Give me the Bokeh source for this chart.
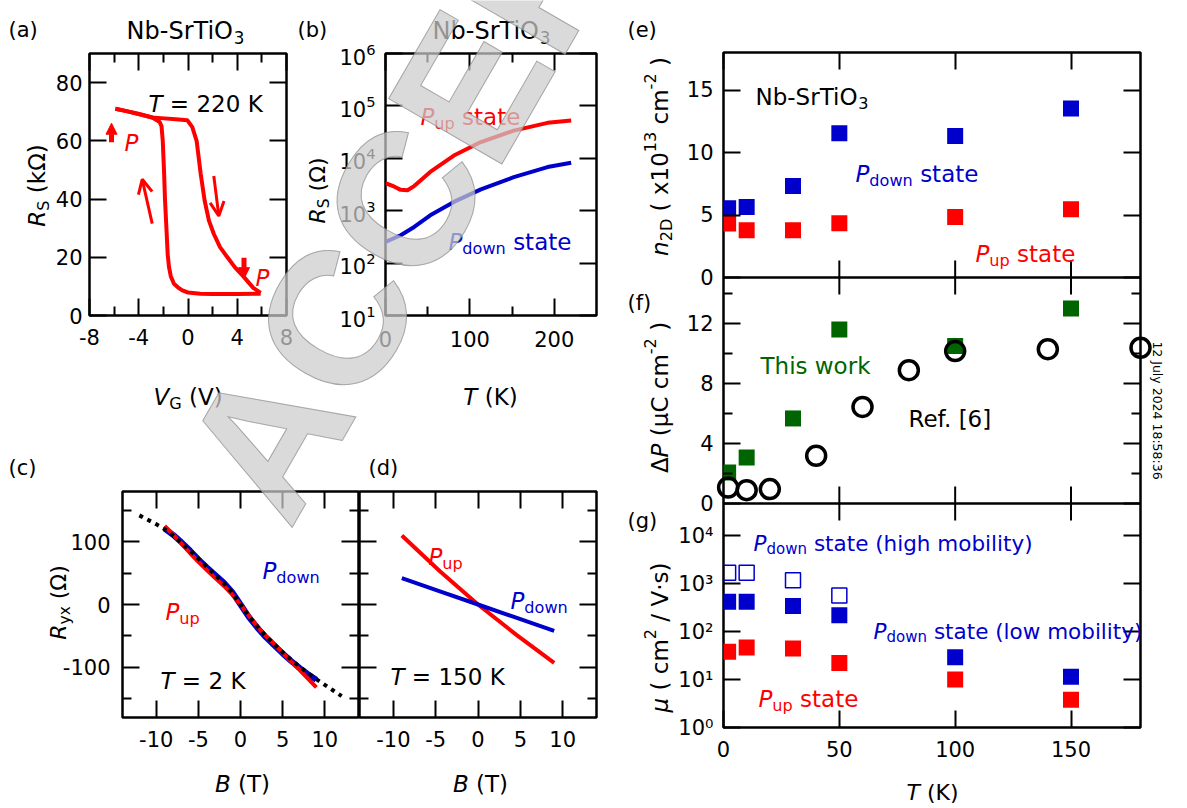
import math
from bokeh.plotting import figure
from bokeh.layouts import row, column
from bokeh.models import (Range1d, LinearAxis, LogAxis, FixedTicker, Label, Arrow,
                          OpenHead, NormalHead, Span, CustomJSTickFormatter, LogScale)
from bokeh.embed import file_html
from bokeh.resources import INLINE

FONT = "DejaVu Sans"
RED = "#ff0000"
BLUE = "#0000cc"
GREEN = "#006400"
BLACK = "#000000"

# ---------------- data ----------------
# (a) hysteresis at T = 220 K
a_dn_V = [-5.9, -5.0, -4.0, -2.9, -2.2, -1.0, -0.06, 0.35, 0.7, 1.03, 1.35, 1.7, 2.1, 2.6, 3.2, 3.8, 4.55, 5.3, 5.9]
a_dn_R = [71.0, 70.2, 69.2, 68.0, 67.8, 67.4, 67.1, 64.7, 60.0, 48.7, 39.5, 32.6, 28.0, 23.5, 20.0, 16.6, 13.2, 9.5, 7.8]
a_up_V = [5.9, 4.0, 2.0, 1.0, 0.0, -0.46, -0.8, -1.14, -1.4, -1.54, -1.65, -1.73, -1.8, -1.87, -1.95, -2.05, -2.15, -2.3, -2.9, -4.0, -5.0, -5.9]
a_up_R = [7.5, 7.4, 7.4, 7.5, 7.9, 8.6, 9.6, 10.9, 13.5, 16.6, 21.0, 28.0, 34.0, 40.0, 50.0, 60.0, 65.0, 66.5, 68.0, 69.2, 70.2, 71.0]

# (b) R_S vs T
b_T_up = [0, 10, 18, 26, 34, 53, 81, 113, 152, 192, 220]
b_R_up = [3350, 2900, 2500, 2450, 2950, 5500, 11300, 20400, 33800, 47500, 52500]
b_T_dn = [0, 18, 34, 53, 81, 113, 152, 192, 220]
b_R_dn = [253, 340, 490, 815, 1470, 2550, 4370, 6800, 8200]

# (c) R_yx vs B at 2 K
c_B = [-9, -8, -7, -6, -5, -4, -3, -2, -1, 0, 1, 2, 3, 4, 5, 6, 7, 8, 9]
c_up = [125, 112, 97, 82, 68, 55, 42, 30, 16, 0, -18, -35, -50, -63, -77, -91, -104, -118, -132]
c_dn = [121, 111, 99, 86, 72, 59, 47, 35, 20, 0, -20, -37, -52, -65, -78, -90, -101, -111, -120]
c_fit_B = [-12, -11, -10, -9, -8, -7, -6, -5, -4, -3, -2, -1, 0, 1, 2, 3, 4, 5, 6, 7, 8, 9, 10, 11, 12]
c_fit = [142, 135, 128, 120, 110, 98, 86, 73, 60, 47, 34, 19, 0, -19, -35, -50, -63, -76, -88, -99, -109, -119, -128, -137, -146]

# (d) R_yx vs B at 150 K
d_B = [-9, -4.5, 0, 4.5, 9]
d_up = [110, 53, 0, -48, -93]
d_dn = [42, 21, 0, -21, -42]

# (e) n_2D vs T
e_T = [2, 10, 30, 50, 100, 150]
e_dn = [5.55, 5.65, 7.33, 11.55, 11.33, 13.52]
e_up = [4.32, 3.79, 3.79, 4.35, 4.85, 5.47]

# (f) Delta P vs T
f_T = [2, 10, 30, 50, 100, 150]
f_this = [2.07, 3.07, 5.67, 11.6, 10.5, 13.0]
f_ref_T = [2, 10, 20, 40, 60, 80, 100, 140, 180]
f_ref = [1.07, 0.89, 0.96, 3.18, 6.44, 8.89, 10.16, 10.29, 10.38]

# (g) mobility vs T
g_T = [2, 10, 30, 50, 100, 150]
g_dn_low = [415, 415, 340, 218, 29, 11.4]
g_up = [38, 46.5, 44, 22, 10, 3.8]
g_T_high = [2, 10, 30, 50]
g_dn_high = [1670, 1670, 1170, 560]

# tick values
a_xt, a_xm, a_yt = [-8, -4, 0, 4, 8], [-6, -2, 2, 6], [0, 20, 40, 60, 80]
b_xt, b_xm, b_yt = [0, 100, 200], [50, 150], [1e1, 1e2, 1e3, 1e4, 1e5, 1e6]
c_xt, c_yt, c_ym = [-10, -5, 0, 5, 10], [-100, 0, 100], [-150, -50, 50, 150]
r_xt = [0, 50, 100, 150]
e_yt, f_yt, f_ym = [0, 5, 10, 15], [0, 4, 8, 12], [2, 6, 10, 14]
g_yt = [1, 10, 100, 1000, 10000]
g_ylab = ["10\u2070", "10\u00b9", "10\u00b2", "10\u00b3", "10\u2074"]

# ---------------- geometry helpers (page pixels, origin top-left) ----------------
PAGE_W, PAGE_H = 1186, 807


class Spec:
    def __init__(self, canvas, frame, xr, yr, ylog=False):
        self.cx0, self.cy0, self.cx1, self.cy1 = canvas
        self.L, self.R, self.T, self.B = frame
        self.xr, self.yr, self.ylog = xr, yr, ylog

    def to_data(self, sx, sy):
        x = self.xr[0] + (sx - self.L) / (self.R - self.L) * (self.xr[1] - self.xr[0])
        f = (self.B - sy) / (self.B - self.T)
        if self.ylog:
            l0, l1 = math.log10(self.yr[0]), math.log10(self.yr[1])
            y = 10 ** (l0 + f * (l1 - l0))
        else:
            y = self.yr[0] + f * (self.yr[1] - self.yr[0])
        return x, y


SA = Spec((0, 0, 296, 420), (89, 286, 52, 315), (-8, 8), (0, 90))
SB = Spec((296, 0, 620, 420), (385, 596, 53, 317), (0, 250), (10, 1e6), ylog=True)
SC = Spec((0, 420, 359, PAGE_H), (122, 358, 491, 717), (-14, 14), (-180, 180))
SD = Spec((359, 420, 620, PAGE_H), (359, 596, 491, 717), (-14, 14), (-180, 180))
SR = Spec((620, 0, PAGE_W, PAGE_H), (723, 1140, 52, 727), (0, 180), (0, 675))
SO = Spec((0, 0, PAGE_W, PAGE_H), (0, PAGE_W, 0, PAGE_H), (0, PAGE_W), (PAGE_H, 0))

WID = {' ': .318, '(': .390, ')': .390, '-': .361, '.': .318, '/': .337, ':': .337, '=': .838,
       '[': .390, ']': .390, 'A': .684, 'B': .686, 'C': .698, 'D': .770, 'E': .632, 'G': .775,
       'K': .656, 'N': .748, 'O': .787, 'P': .603, 'R': .695, 'S': .635, 'T': .611, 'V': .684,
       'J': .295, 'a': .613, 'b': .635, 'c': .550, 'd': .635, 'e': .615, 'f': .352, 'g': .635,
       'h': .634, 'i': .278, 'k': .579, 'l': .278, 'm': .974, 'n': .634, 'o': .612, 'p': .635,
       'r': .411, 's': .521, 't': .392, 'u': .634, 'w': .818, 'x': .592, 'y': .592,
       '\u0394': .684, '\u03bc': .635, '\u03a9': .764, '\u00b7': .318}
for dch in "0123456789":
    WID[dch] = .636


def tw(s, size):
    return sum(WID.get(ch, 0.62) for ch in s) * size


def rich(p, spec, sx, sy, segs, size, color=BLACK, align="left", angle=0.0):
    sizes = [size * 0.7 if ('b' in st or 'p' in st) else size for _, st in segs]
    widths = [tw(t, fs) for (t, _), fs in zip(segs, sizes)]
    total = sum(widths)
    pos = {"left": 0.0, "center": -total / 2, "right": -total}[align]
    ca, sa = math.cos(angle), math.sin(angle)
    for (t, st), fs, w in zip(segs, sizes, widths):
        lead = len(t) - len(t.lstrip(' '))
        core = t.strip(' ')
        start = pos + lead * WID[' '] * fs
        down = 0.36 * size
        if 'b' in st:
            down += 0.28 * size
        if 'p' in st:
            down -= 0.42 * size
        px = sx + start * ca + down * sa
        py = sy - start * sa + down * ca
        x, y = spec.to_data(px, py)
        if core:
            p.add_layout(Label(x=x, y=y, text=core, text_font=FONT, text_font_size=f"{fs:.1f}px",
                               text_font_style="italic" if 'i' in st else "normal",
                               text_color=color, text_align="left", text_baseline="alphabetic",
                               angle=angle))
        pos += w


def make_fig(spec, x_range, y_range, ylog=False, left=True, **kw):
    p = figure(width=spec.cx1 - spec.cx0, height=spec.cy1 - spec.cy0,
               x_range=x_range, y_range=y_range,
               y_axis_type="log" if ylog else "linear",
               y_axis_location="left" if left else None,
               output_backend="svg", toolbar_location=None,
               min_border_left=spec.L - spec.cx0, min_border_right=spec.cx1 - spec.R,
               min_border_top=spec.T - spec.cy0, min_border_bottom=spec.cy1 - spec.B, **kw)
    p.grid.visible = False
    p.outline_line_color = BLACK
    p.outline_line_width = 2.5
    p.background_fill_color = "white"
    p.border_fill_color = "white"
    return p


PLAIN = CustomJSTickFormatter(code="return String(tick);")


def style_axis(ax, ticks=None, minor=(), labels=True, standoff=8, ticker=None, fmt=None):
    ax.ticker = ticker if ticker is not None else FixedTicker(ticks=list(ticks), minor_ticks=list(minor))
    ax.major_tick_in = 17
    ax.major_tick_out = 0
    ax.minor_tick_in = 9
    ax.minor_tick_out = 0
    ax.major_tick_line_width = 2
    ax.minor_tick_line_width = 2
    ax.major_tick_line_color = BLACK
    ax.minor_tick_line_color = BLACK
    ax.axis_line_color = None
    ax.major_label_text_font = FONT
    if labels:
        ax.major_label_text_color = BLACK
        ax.major_label_text_font_size = "21px"
        ax.major_label_standoff = standoff
    else:
        ax.major_label_text_color = None
        ax.major_label_text_font_size = "1px"
        ax.major_label_standoff = 0
    if fmt is not None:
        ax.formatter = fmt


def mirrors(p, xt, xm, yt, ym, ylog=False):
    top = LinearAxis()
    style_axis(top, xt, xm, labels=False)
    p.add_layout(top, "above")
    right = LogAxis() if ylog else LinearAxis()
    style_axis(right, yt, ym, labels=False)
    p.add_layout(right, "right")


def arrow(p, spec, s0, s1, head, width):
    x0, y0 = spec.to_data(*s0)
    x1, y1 = spec.to_data(*s1)
    p.add_layout(Arrow(end=head, x_start=x0, y_start=y0, x_end=x1, y_end=y1,
                       line_color=RED, line_width=width))


# ---------------- panel (a) ----------------
fa = make_fig(SA, Range1d(-8, 8), Range1d(0, 90))
style_axis(fa.xaxis[0], a_xt, a_xm, standoff=13, fmt=PLAIN)
style_axis(fa.yaxis[0], a_yt, [], standoff=7, fmt=PLAIN)
mirrors(fa, a_xt, a_xm, a_yt, [])
fa.line(a_dn_V, a_dn_R, line_color=RED, line_width=4, line_join="round")
fa.line(a_up_V, a_up_R, line_color=RED, line_width=4, line_join="round")
arrow(fa, SA, (151.7, 222.7), (141.7, 178.3), OpenHead(size=14, line_color=RED, line_width=3), 3)
arrow(fa, SA, (213.3, 175.0), (218.3, 215.0), OpenHead(size=14, line_color=RED, line_width=3), 3)
arrow(fa, SA, (111, 141), (111, 122), NormalHead(size=11, fill_color=RED, line_color=RED), 5)
arrow(fa, SA, (243.5, 257), (243.5, 278), NormalHead(size=11, fill_color=RED, line_color=RED), 5)

# ---------------- panel (b) ----------------
fb = make_fig(SB, Range1d(0, 250), Range1d(10, 1e6), ylog=True)
style_axis(fb.xaxis[0], b_xt, b_xm, standoff=15, fmt=PLAIN)
style_axis(fb.yaxis[0], b_yt, [], standoff=10)
mirrors(fb, b_xt, b_xm, b_yt, [], ylog=True)
fb.line(b_T_up, b_R_up, line_color=RED, line_width=4, line_join="round")
fb.line(b_T_dn, b_R_dn, line_color=BLUE, line_width=4, line_join="round")

# ---------------- panels (c), (d) ----------------
cy = Range1d(-180, 180)
fc = make_fig(SC, Range1d(-14, 14), cy)
style_axis(fc.xaxis[0], c_xt, [], standoff=13, fmt=PLAIN)
style_axis(fc.yaxis[0], c_yt, c_ym, standoff=12, fmt=PLAIN)
mirrors(fc, c_xt, [], c_yt, c_ym)
fc.line(c_B, c_dn, line_color=BLUE, line_width=6, line_join="round")
fc.line(c_B, c_up, line_color=RED, line_width=4, line_join="round")
fc.line(c_fit_B, c_fit, line_color=BLACK, line_width=4, line_dash="4 5")

fd = make_fig(SD, Range1d(-14, 14), cy, left=False)
style_axis(fd.xaxis[0], c_xt, [], standoff=13, fmt=PLAIN)
lax = LinearAxis()
style_axis(lax, c_yt, c_ym, labels=False)
fd.add_layout(lax, "left")
mirrors(fd, c_xt, [], c_yt, c_ym)
fd.line(d_B, d_up, line_color=RED, line_width=4, line_join="round")
fd.line(d_B, d_dn, line_color=BLUE, line_width=4, line_join="round")

# ---------------- right column (e), (f), (g) ----------------
VH = SR.B - SR.T  # virtual pixel height of the stacked frame


def sub_range(r0, r1, top, bot, log=False):
    if log:
        r0, r1 = math.log10(r0), math.log10(r1)
    k = (r1 - r0) / (bot - top)
    return r0 - (SR.B - bot) * k, r1 + (top - SR.T) * k


E_TOP, E_BOT = 52, 277
F_TOP, F_BOT = 277, 503
G_TOP, G_BOT = 503, 727
e_lo, e_hi = sub_range(0, 18, E_TOP, E_BOT)
f_lo, f_hi = sub_range(0, 15.0667, F_TOP, F_BOT)
g_llo, g_lhi = sub_range(1, 10 ** 4.667, G_TOP, G_BOT, log=True)


def v_lin(val, lo, hi):
    return (val - lo) / (hi - lo) * VH


def v_log(val, llo, lhi):
    return (math.log10(val) - llo) / (lhi - llo) * VH


maj = ([v_lin(t, e_lo, e_hi) for t in e_yt] + [v_lin(t, f_lo, f_hi) for t in f_yt]
       + [v_log(t, g_llo, g_lhi) for t in g_yt])
lab = [str(t) for t in e_yt] + [str(t) for t in f_yt] + g_ylab
mnr = [v_lin(t, f_lo, f_hi) for t in f_ym]

fr = make_fig(SR, Range1d(0, 180), Range1d(0, VH),
              extra_y_ranges={"e": Range1d(e_lo, e_hi), "f": Range1d(f_lo, f_hi),
                              "g": Range1d(10 ** g_llo, 10 ** g_lhi)},
              extra_y_scales={"g": LogScale()})
style_axis(fr.xaxis[0], r_xt, [], standoff=13, fmt=PLAIN)
fmt = CustomJSTickFormatter(args=dict(pos=maj, lab=lab), code="""
for (let i = 0; i < pos.length; i++) { if (Math.abs(pos[i] - tick) < 1e-3) { return lab[i]; } }
return "";
""")
style_axis(fr.yaxis[0], maj, mnr, standoff=10, fmt=fmt)
mirrors(fr, r_xt, [], maj, mnr)

ef_line = v_lin(0, e_lo, e_hi)
fg_line = v_lin(0, f_lo, f_hi)
for loc in (ef_line, fg_line):
    fr.add_layout(Span(location=loc, dimension="width", line_color=BLACK, line_width=2.5))
    fr.scatter(r_xt[1:], [loc] * (len(r_xt) - 1), marker="dash", size=34, angle=math.pi / 2,
               line_color=BLACK, line_width=2)

fr.scatter(e_T, e_dn, marker="square", size=16, fill_color=BLUE, line_color=None, y_range_name="e")
fr.scatter(e_T, e_up, marker="square", size=16, fill_color=RED, line_color=None, y_range_name="e")
fr.scatter(f_T, f_this, marker="square", size=16, fill_color=GREEN, line_color=None, y_range_name="f")
ref_r = fr.scatter(f_ref_T, f_ref, marker="circle", size=19, fill_color=None, line_color=BLACK,
                   line_width=3.5, y_range_name="f")
ref_r.level = "overlay"
fr.scatter(g_T_high, g_dn_high, marker="square", size=15, fill_color=None, line_color=BLUE,
           line_width=1.5, y_range_name="g")
fr.scatter(g_T, g_dn_low, marker="square", size=16, fill_color=BLUE, line_color=None, y_range_name="g")
fr.scatter(g_T, g_up, marker="square", size=16, fill_color=RED, line_color=None, y_range_name="g")

# ---------------- transparent text layer over the whole page ----------------
ov = figure(width=PAGE_W, height=PAGE_H, x_range=Range1d(0, PAGE_W), y_range=Range1d(PAGE_H, 0),
            x_axis_location=None, y_axis_location=None, output_backend="svg", toolbar_location=None,
            min_border_left=0, min_border_right=0, min_border_top=0, min_border_bottom=0)
ov.grid.visible = False
ov.outline_line_color = None
ov.background_fill_color = None
ov.border_fill_color = None
ov.margin = (-PAGE_H, 0, 0, 0)

R = rich
# (a)
R(ov, SO, 8, 22, [("(a)", "")], 21)
R(ov, SO, 185, 22, [("Nb-SrTiO", ""), ("3", "b")], 24, align="center")
R(ov, SO, 148, 95, [("T", "i"), (" = 220 K", "")], 23)
R(ov, SO, 124, 134, [("P", "i")], 23, color=RED)
R(ov, SO, 255, 269, [("P", "i")], 23, color=RED)
R(ov, SO, 28, 185, [("R", "i"), ("S", "b"), (" (k\u03a9)", "")], 23, align="center", angle=math.pi / 2)
R(ov, SO, 187.5, 388, [("V", "i"), ("G", "b"), (" (V)", "")], 23, align="center")
# (b)
R(ov, SO, 297, 22, [("(b)", "")], 21)
R(ov, SO, 491, 22, [("Nb-SrTiO", ""), ("3", "b")], 24, align="center")
R(ov, SO, 420, 108, [("P", "i"), ("up", "b"), (" state", "")], 23, color=RED)
R(ov, SO, 448, 233, [("P", "i"), ("down", "b"), (" state", "")], 23, color=BLUE)
R(ov, SO, 309, 190, [("R", "i"), ("S", "b"), (" (\u03a9)", "")], 22, align="center", angle=math.pi / 2)
R(ov, SO, 490, 388, [("T", "i"), (" (K)", "")], 23, align="center")
# (c)
R(ov, SO, 8, 460, [("(c)", "")], 21)
R(ov, SO, 262, 562, [("P", "i"), ("down", "b")], 23, color=BLUE)
R(ov, SO, 165, 603, [("P", "i"), ("up", "b")], 23, color=RED)
R(ov, SO, 160, 672, [("T", "i"), (" = 2 K", "")], 23)
R(ov, SO, 50, 602, [("R", "i"), ("yx", "b"), (" (\u03a9)", "")], 22, align="center", angle=math.pi / 2)
R(ov, SO, 242, 775, [("B", "i"), (" (T)", "")], 23, align="center")
# (d)
R(ov, SO, 368, 460, [("(d)", "")], 21)
R(ov, SO, 428, 548, [("P", "i"), ("up", "b")], 23, color=RED)
R(ov, SO, 510, 592, [("P", "i"), ("down", "b")], 23, color=BLUE)
R(ov, SO, 390, 668, [("T", "i"), (" = 150 K", "")], 23)
R(ov, SO, 480, 775, [("B", "i"), (" (T)", "")], 23, align="center")
# (e), (f), (g)
R(ov, SO, 627, 22, [("(e)", "")], 21)
R(ov, SO, 627, 295, [("(f)", "")], 21)
R(ov, SO, 627, 513, [("(g)", "")], 21)
R(ov, SO, 755, 88, [("Nb-SrTiO", ""), ("3", "b")], 23)
R(ov, SO, 855, 165, [("P", "i"), ("down", "b"), (" state", "")], 23, color=BLUE)
R(ov, SO, 975, 245, [("P", "i"), ("up", "b"), (" state", "")], 23, color=RED)
R(ov, SO, 651, 156, [("n", "i"), ("2D", "b"), (" ( x10", ""), ("13", "p"), (" cm", ""), ("-2", "p"), (" )", "")],
  23, align="center", angle=math.pi / 2)
R(ov, SO, 760, 357, [("This work", "")], 23, color=GREEN)
R(ov, SO, 908, 410, [("Ref. [6]", "")], 23)
R(ov, SO, 651, 397, [("\u0394", ""), ("P", "i"), (" (\u03bcC cm", ""), ("-2", "p"), (" )", "")],
  23, align="center", angle=math.pi / 2)
R(ov, SO, 753, 535, [("P", "i"), ("down", "b"), (" state (high mobility)", "")], 21.5, color=BLUE)
R(ov, SO, 873, 623, [("P", "i"), ("down", "b"), (" state (low mobility)", "")], 21.5, color=BLUE)
R(ov, SO, 758, 690, [("P", "i"), ("up", "b"), (" state", "")], 23, color=RED)
R(ov, SO, 651, 637, [("\u03bc", "i"), (" ( cm", ""), ("2", "p"), (" / V\u00b7s)", "")],
  23, align="center", angle=math.pi / 2)
R(ov, SO, 932, 784, [("T", "i"), (" (K)", "")], 22, align="center")
R(ov, SO, 1161, 410, [("12 July 2024 18:58:36", "")], 12.5, align="center", angle=-math.pi / 2)

# watermark
ov.add_layout(Label(x=232, y=498, text="ACCEPTED", text_font="Liberation Sans", text_font_style="bold",
                    text_font_size="190px", text_color="#cccccc", text_alpha=0.72,
                    text_outline_color="#8c8c8c", text_align="left", text_baseline="alphabetic",
                    angle=math.radians(60)))

layout = column(row(column(row(fa, fb), row(fc, fd)), fr), ov)
open("out.html", "w").write(file_html(layout, INLINE))
